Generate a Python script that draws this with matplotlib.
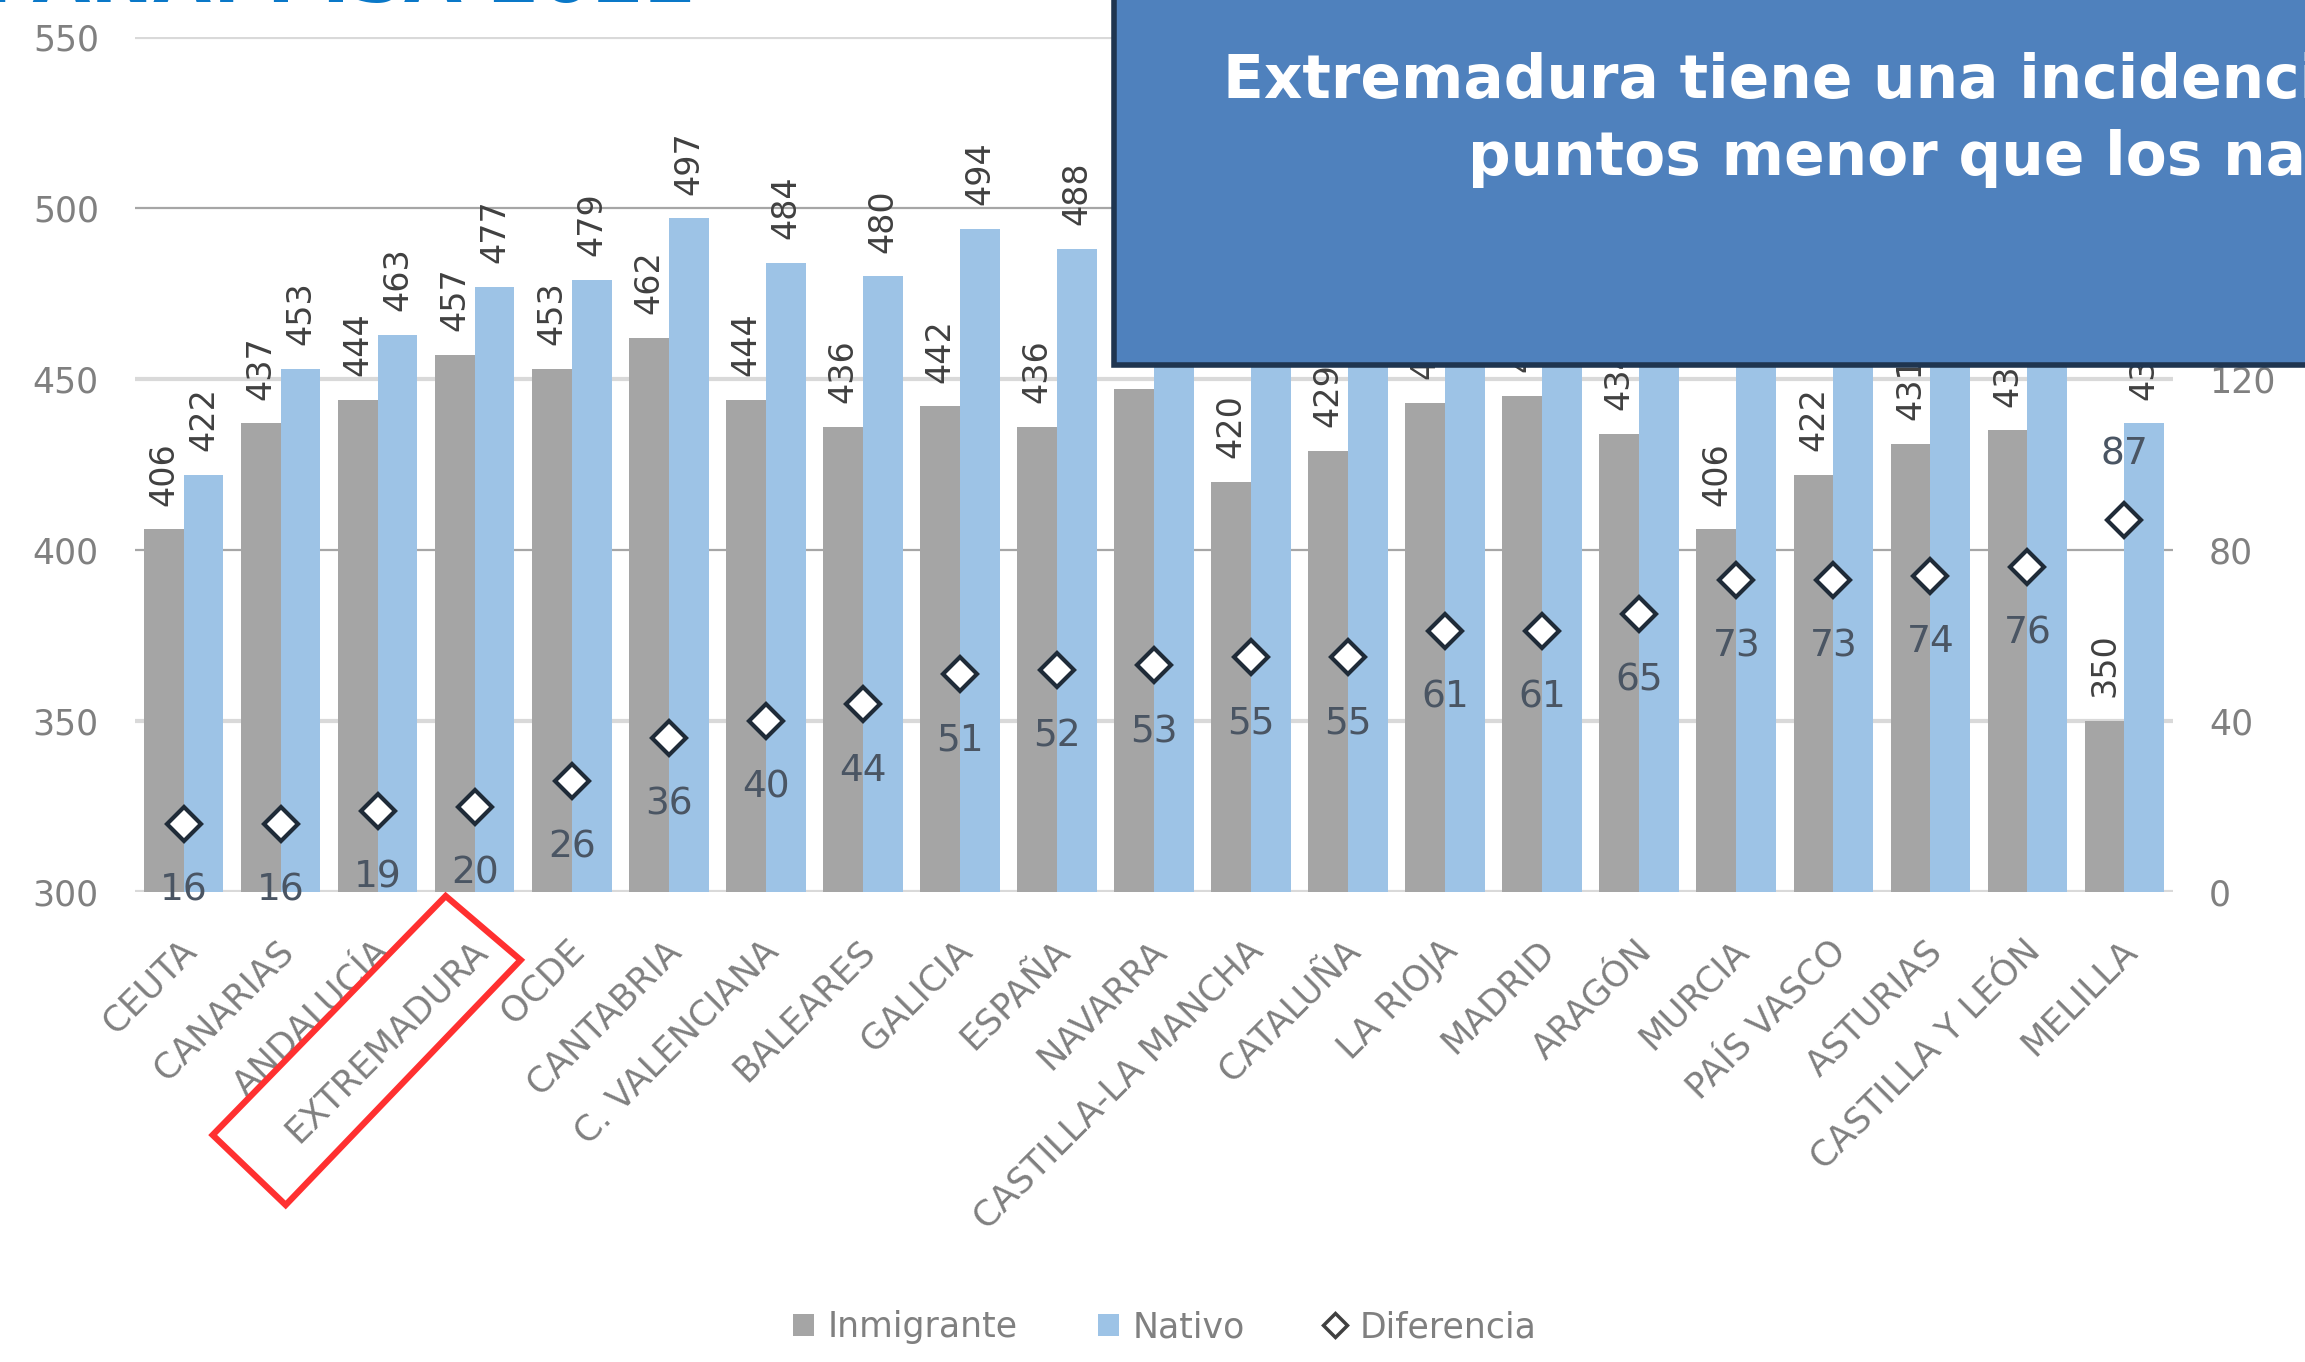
import numpy as np
import matplotlib
matplotlib.use('Agg')
import matplotlib.pyplot as plt
from matplotlib.patches import Rectangle, Polygon, Patch
from matplotlib.lines import Line2D
from matplotlib.transforms import ScaledTranslation

# datos (los valores de Nativo tapados por el cuadro = inmigrante + diferencia)
regiones = ['CEUTA', 'CANARIAS', 'ANDALUCÍA', 'EXTREMADURA', 'OCDE', 'CANTABRIA',
            'C. VALENCIANA', 'BALEARES', 'GALICIA', 'ESPAÑA', 'NAVARRA',
            'CASTILLA-LA MANCHA', 'CATALUÑA', 'LA RIOJA', 'MADRID', 'ARAGÓN',
            'MURCIA', 'PAÍS VASCO', 'ASTURIAS', 'CASTILLA Y LEÓN', 'MELILLA']
inmigrante = [406, 437, 444, 457, 453, 462, 444, 436, 442, 436, 447,
              420, 429, 443, 445, 434, 406, 422, 431, 435, 350]
nativo = [422, 453, 463, 477, 479, 497, 484, 480, 494, 488, 500,
          475, 484, 504, 506, 499, 479, 495, 505, 511, 437]
diferencia = [16, 16, 19, 20, 26, 36, 40, 44, 51, 52, 53,
              55, 55, 61, 61, 65, 73, 73, 74, 76, 87]

ticks_izq = [300, 350, 400, 450, 500, 550]
ticks_der = [0, 40, 80, 120, 160, 200]

gris = '#a5a5a5'
azul = '#9dc3e6'
txt_gris = '#808080'

W, H = 2305, 1362
fig = plt.figure(figsize=(W / 100, H / 100), dpi=100)
ax = fig.add_axes([135 / W, (H - 892) / H, (2173 - 135) / W, (892 - 37) / H])

x = np.arange(len(regiones))
w = 0.41

# gridlines (500 and 400 a bit darker, like the reference)
for y in ticks_izq:
    if y in (400, 500):
        ax.axhline(y, color='#a6a6a6', lw=1.6, zorder=1)
    else:
        ax.axhline(y, color='#d9d9d9', lw=3, zorder=1)

ax.bar(x - w / 2, inmigrante, w, color=gris, zorder=2)
ax.bar(x + w / 2, nativo, w, color=azul, zorder=2)
ax.set_xlim(-0.5, len(regiones) - 0.5)
ax.set_ylim(300, 550)
ax.set_yticks(ticks_izq)

for i in x:
    ax.annotate(str(inmigrante[i]), (i - w / 2, inmigrante[i]), xytext=(0, 17),
                textcoords='offset points', rotation=90, ha='center', va='bottom',
                fontsize=24, color='#404040', zorder=3)
    ax.annotate(str(nativo[i]), (i + w / 2, nativo[i]), xytext=(0, 17),
                textcoords='offset points', rotation=90, ha='center', va='bottom',
                fontsize=24, color='#404040', zorder=3)

for s in ax.spines.values():
    s.set_visible(False)
ax.tick_params(axis='y', length=0, labelsize=25, labelcolor=txt_gris, pad=26)
ax.set_xticks(x)
ax.set_xticklabels(regiones, rotation=45, ha='right', va='top',
                   rotation_mode='anchor', fontsize=25.5, color=txt_gris)
ax.tick_params(axis='x', length=0, pad=30)
for lab in ax.get_xticklabels():
    lab.set_transform(lab.get_transform() + ScaledTranslation(-0.05, 0, fig.dpi_scale_trans))

# secondary axis: difference
ax2 = ax.twinx()
ax2.set_ylim(0, 200)
ax2.set_yticks(ticks_der)
for s in ax2.spines.values():
    s.set_visible(False)
ax2.tick_params(axis='y', length=0, labelsize=25, labelcolor=txt_gris, pad=26)
ax2.plot(x, diferencia, ls='none', marker='D', ms=17, mfc='white', mec='#1f2b38',
         mew=3, zorder=4)
for i in x:
    dy = 47 if i == len(regiones) - 1 else -48
    ax2.annotate(str(diferencia[i]), (i, diferencia[i]), xytext=(0, dy),
                 textcoords='offset points', ha='center', va='center',
                 fontsize=27, color='#4a5563')

# red box around EXTREMADURA label (pixel offsets from its tick at the axis base)
ax_l, ax_b, ax_w, ax_h = ax.get_position().bounds
cx = (ax_l + (3 + 0.5) / len(regiones) * ax_w) * W
cy = ax_b * H
caja = [(-29, -4), (46, -68), (-189, -313), (-262, -243)]
fig.add_artist(Polygon([((cx + dx) / W, (cy + dy) / H) for dx, dy in caja],
                       closed=True, fill=False, edgecolor='#ff3030', lw=4.5,
                       transform=fig.transFigure, zorder=12))

# blue callout box covering the top right
fig.add_artist(Rectangle((1114 / W, 1 - 365 / H), 0.6, 0.5, transform=fig.transFigure,
                         facecolor='#4f81bd', edgecolor='#1f3550', lw=4, zorder=10))
fig.text(1223 / W, 1 - 98 / H, 'Extremadura tiene una incidencia de 20',
         ha='left', va='baseline', color='white', fontsize=43, fontweight='bold',
         family='DejaVu Sans', zorder=11)
fig.text(1468 / W, 1 - 175 / H, 'puntos menor que los nativos',
         ha='left', va='baseline', color='white', fontsize=43, fontweight='bold',
         family='DejaVu Sans', zorder=11)

# title cut off by the top edge
fig.text(697 / W, 1 - 2 / H, 'ESPAÑA. PISA 2022', ha='right', va='baseline',
         fontsize=54, fontweight='bold', color='#0a78c8', zorder=11)

handles = [Patch(facecolor=gris), Patch(facecolor=azul),
           Line2D([], [], ls='none', marker='D', ms=12, mfc='white', mec='#404040', mew=2.5)]
fig.legend(handles, ['Inmigrante', 'Nativo', 'Diferencia'], loc='center',
           bbox_to_anchor=(1165 / W, 1 - 1327 / H), ncol=3, frameon=False,
           fontsize=25, labelcolor=txt_gris, handlelength=0.6, handleheight=0.6,
           handletextpad=0.4, columnspacing=2.3)

fig.savefig('out.png', dpi=100)
